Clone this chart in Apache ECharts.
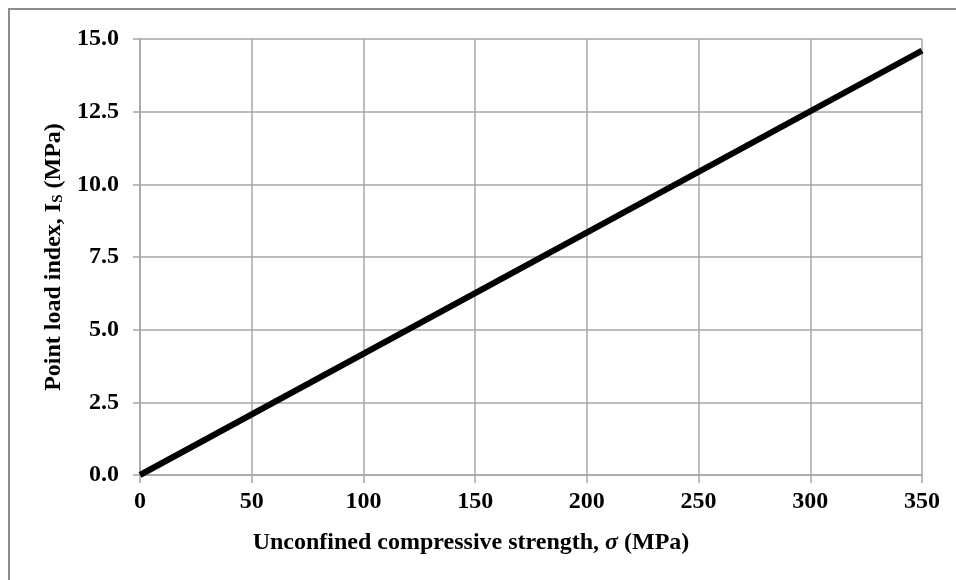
<!DOCTYPE html>
<html>
<head>
<meta charset="utf-8">
<script src="https://cdn.jsdelivr.net/npm/echarts@6/dist/echarts.min.js"></script>
<style>
  html, body { margin: 0; padding: 0; background: #fff; }
  #chart { width: 956px; height: 580px; }
</style>
</head>
<body>
<div id="chart"></div>
<script>
// data
var sigma = [0, 350];          // unconfined compressive strength (MPa)
var pointLoad = [0, 14.6];     // point load index Is (MPa)
var xTicks = [0, 50, 100, 150, 200, 250, 300, 350];
var yTicks = [0, 2.5, 5, 7.5, 10, 12.5, 15];

var font = '"Liberation Serif", "Times New Roman", serif';
var gridColor = '#a6a6a6';

var pts = [];
for (var i = 0; i < sigma.length; i++) {
    pts.push([sigma[i], pointLoad[i]]);
}

var myChart = echarts.init(document.getElementById('chart'));

option = {
    animation: false,
    backgroundColor: '#fff',
    grid: {
        left: 140,
        right: 34,
        top: 39,
        bottom: 105
    },
    graphic: [{
        type: 'rect',
        shape: { x: 9, y: 9, width: 1000, height: 620 },
        style: { fill: 'none', stroke: '#8c8c8c', lineWidth: 2 },
        silent: true
    }],
    xAxis: {
        type: 'value',
        min: xTicks[0],
        max: xTicks[xTicks.length - 1],
        interval: 50,
        name: 'Unconfined compressive strength, {it|σ} (MPa)',
        nameLocation: 'middle',
        nameGap: 56,
        nameTextStyle: {
            fontFamily: font,
            fontWeight: 'bold',
            fontSize: 24,
            color: '#000',
            padding: [0, 120, 0, 0],
            rich: {
                it: { fontFamily: font, fontWeight: 'bold', fontStyle: 'italic', fontSize: 24, color: '#000' }
            }
        },
        axisLine: { show: true, lineStyle: { color: gridColor, width: 1.5 } },
        axisTick: { show: true, length: 8, lineStyle: { color: gridColor, width: 1.5 } },
        axisLabel: {
            margin: 15,
            fontFamily: font,
            fontWeight: 'bold',
            fontSize: 24,
            color: '#000'
        },
        splitLine: { show: true, lineStyle: { color: gridColor, width: 1.5 } }
    },
    yAxis: {
        type: 'value',
        min: yTicks[0],
        max: yTicks[yTicks.length - 1],
        interval: 2.5,
        name: 'Point load index, I{sub|S} (MPa)',
        nameLocation: 'middle',
        nameRotate: 90,
        nameGap: 68,
        nameTextStyle: {
            fontFamily: font,
            fontWeight: 'bold',
            fontSize: 24,
            color: '#000',
            rich: {
                sub: { fontFamily: font, fontWeight: 'bold', fontSize: 15, color: '#000', padding: [10, 0, 0, 0] }
            }
        },
        axisLine: { show: true, lineStyle: { color: gridColor, width: 1.5 } },
        axisTick: { show: true, length: 7, lineStyle: { color: gridColor, width: 1.5 } },
        axisLabel: {
            margin: 21,
            fontFamily: font,
            fontWeight: 'bold',
            fontSize: 24,
            color: '#000',
            formatter: function (v) { return v.toFixed(1); }
        },
        splitLine: { show: true, lineStyle: { color: gridColor, width: 1.5 } }
    },
    series: [{
        type: 'line',
        data: pts,
        symbol: 'none',
        lineStyle: { color: '#000', width: 6, cap: 'butt' },
        clip: true
    }]
};

myChart.setOption(option);
</script>
</body>
</html>
